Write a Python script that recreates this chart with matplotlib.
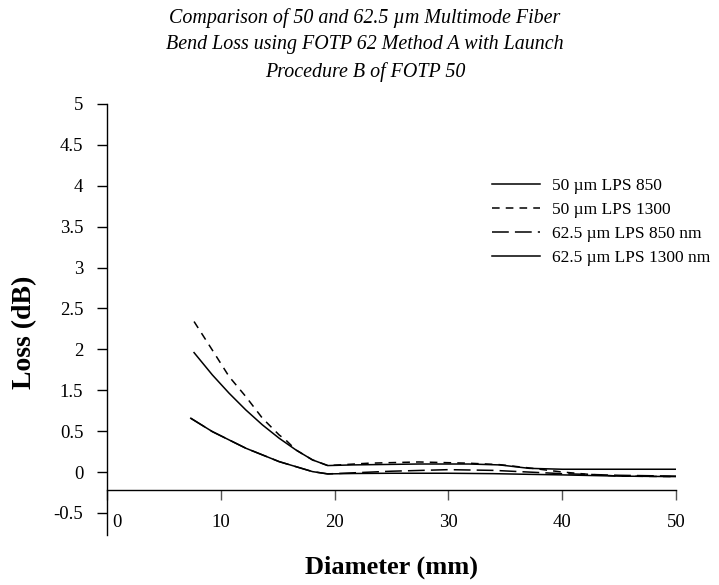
import numpy as np
import matplotlib
matplotlib.use('Agg')
import matplotlib.pyplot as plt
import matplotlib.transforms as mtransforms

plt.rcParams['font.family'] = ['Liberation Serif', 'DejaVu Serif']

# y tick labels as printed on the chart (the "1" is missing in the original)
y_tick_labels = [-0.5, 0, 0.5, 1.5, 2, 2.5, 3, 3.5, 4, 4.5, 5]
x_ticks = [0, 10, 20, 30, 40, 50]

# 50 um fiber
d50_850 = [7.65, 9.26, 10.73, 12.2, 13.66, 15.13, 16.6, 18.06, 19.4, 21.6, 27.4, 31.8, 34.5, 37.1, 40, 45, 50]
loss_50_850 = [1.96, 1.687, 1.427, 1.018, 0.652, 0.413, 0.27, 0.148, 0.079, 0.087, 0.098, 0.098, 0.087, 0.045, 0.034, 0.034, 0.034]
d50_1300 = [7.65, 9.26, 10.73, 12.2, 13.66, 15.13, 15.72, 16.6, 18.06, 19.4, 23.0, 27.4, 31.8, 34.5, 37.1, 40, 42.4, 45, 50]
loss_50_1300 = [2.34, 1.99, 1.667, 1.344, 0.815, 0.453, 0.39, 0.27, 0.148, 0.079, 0.108, 0.123, 0.108, 0.09, 0.05, 0.0, -0.029, -0.05, -0.056]

# 62.5 um fiber
d625 = [7.36, 9.26, 12.2, 15.13, 18.06, 19.4, 21.6, 25, 30, 34, 37, 40, 45, 50]
loss_625_850 = [0.815, 0.494, 0.291, 0.127, 0.005, -0.023, -0.01, 0.01, 0.029, 0.02, 0.0, -0.02, -0.04, -0.05]
loss_625_1300 = [0.815, 0.494, 0.291, 0.127, 0.005, -0.023, -0.018, -0.015, -0.015, -0.02, -0.028, -0.035, -0.05, -0.056]

# piecewise scale so the printed labels sit at equal steps
knots = [-1.5] + y_tick_labels + [6]
pos = [-2] + list(range(len(y_tick_labels))) + [12]


def fwd(v):
    return np.interp(v, knots, pos)


def inv(p):
    return np.interp(p, pos, knots)


fig = plt.figure(figsize=(7.19, 5.85), dpi=100)
ax = fig.add_axes([107 / 719, 1 - 535 / 585, (676 - 107) / 719, (535 - 104) / 585])
ax.set_yscale('function', functions=(fwd, inv))

ax.plot(d50_850, loss_50_850, color='black', lw=1.1, label='50 µm LPS 850')
ax.plot(d50_1300, loss_50_1300, color='black', lw=1.1, dashes=(5, 4), label='50 µm LPS 1300')
ax.plot(d625, loss_625_850, color='black', lw=1.1, dashes=(11, 4), label='62.5 µm LPS 850 nm')
ax.plot(d625, loss_625_1300, color='black', lw=1.1, label='62.5 µm LPS 1300 nm')

ax.set_xlim(0, 50)
ax.set_ylim(-0.77, 5)

ax.spines['top'].set_visible(False)
ax.spines['right'].set_visible(False)
ax.spines['bottom'].set_position(('data', -0.22))
ax.spines['left'].set_linewidth(1)
ax.spines['bottom'].set_linewidth(1)

ax.set_yticks(y_tick_labels)
ax.set_yticklabels([('%g' % v) for v in y_tick_labels])
ax.minorticks_off()
ax.set_xticks(x_ticks)
ax.set_xticklabels([str(v) for v in x_ticks])
ax.tick_params(axis='y', direction='out', length=7, width=1, labelsize=13.5, pad=10)
ax.tick_params(axis='x', direction='out', length=7, width=1, color='#555555',
               labelsize=13.5, pad=10)

# the "0" label sits just right of the y axis
lbl0 = ax.get_xticklabels()[0]
lbl0.set_transform(lbl0.get_transform() +
                   mtransforms.ScaledTranslation(10 / 100, 0, fig.dpi_scale_trans))

fig.text(25 / 719, 1 - 332 / 585, 'Loss (dB)', rotation=90, fontsize=20, fontweight='bold',
         ha='center', va='center')
fig.text(391 / 719, 1 - 567 / 585, 'Diameter (mm)', fontsize=19, fontweight='bold',
         ha='center', va='center')

fig.text(365 / 719, 1 - 45 / 585,
         'Comparison of 50 and 62.5 µm Multimode Fiber\n'
         'Bend Loss using FOTP 62 Method A with Launch\n'
         'Procedure B of FOTP 50',
         fontsize=14.4, style='italic', ha='center', va='center', linespacing=1.55)

ax.legend(loc='upper left', bbox_to_anchor=(476 / 719, 1 - 162 / 585),
          bbox_transform=fig.transFigure, frameon=False, fontsize=12.5,
          handlelength=2.8, handletextpad=0.7, labelspacing=0.45)

fig.savefig('out.png', dpi=100)
